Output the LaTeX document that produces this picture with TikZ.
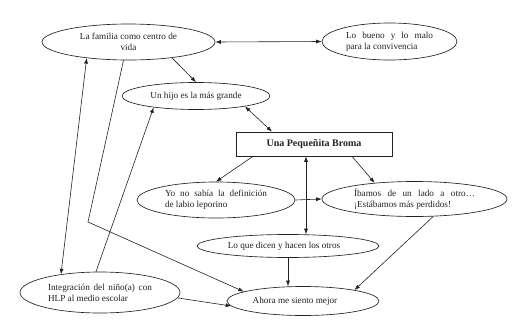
\documentclass[tikz,border=0pt]{standalone}
\usepackage{fontspec}
\setmainfont{Liberation Serif}
\usetikzlibrary{shapes.geometric,arrows.meta,calc}
\definecolor{ink}{HTML}{222222}
\begin{document}
\begin{tikzpicture}[x=1pt,y=-1pt,
  every node/.style={font=\fontsize{9.2}{11}\selectfont, text=ink},
  oval/.style={ellipse, draw=ink, line width=0.65pt, inner sep=0pt},
  conn/.style={draw=ink, line width=0.6pt},
  >={Latex[length=5.5pt,width=4pt]}]
\fill[white] (0,0) rectangle (517,327);
\useasboundingbox (0,0) rectangle (517,327);

\node[oval, minimum width=173pt, minimum height=36pt, align=center] (fam) at (128.5,42) {La familia como centro de\\vida};
\node[oval, minimum width=135pt, minimum height=37pt, align=left] (bueno) at (389.5,41.5) {\makebox[87pt][s]{Lo bueno y lo malo}\\para la convivencia};
\node[oval, minimum width=148pt, minimum height=27pt] (hijo) at (196,96) {Un hijo es la más grande};
\node[draw=ink, line width=0.65pt, minimum width=156pt, minimum height=24pt, inner sep=0pt, font=\fontsize{10}{12}\selectfont\bfseries] (broma) at (314,144) {Una Pequeñita Broma};
\node[oval, minimum width=158pt, minimum height=36pt, align=left] (yo) at (216,200) {\makebox[102pt][s]{Yo no sabía la definición}\\de labio leporino};
\node[oval, minimum width=185pt, minimum height=35pt, align=left] (ib) at (414.5,199) {\makebox[121pt][s]{Íbamos de un lado a otro…}\\¡Estábamos más perdidos!};
\node[oval, minimum width=182pt, minimum height=23pt] (dicen) at (288,246) {Lo que dicen y hacen los otros\hspace*{8pt}};
\node[oval, minimum width=160pt, minimum height=41pt, align=left] (integ) at (100,292.5) {\makebox[104pt][s]{Integración del niño(a) con}\\HLP al medio escolar};
\node[oval, minimum width=152pt, minimum height=29pt] (ahora) at (303,301) {Ahora me siento mejor\hspace*{16pt}};

\coordinate (bend) at (88,222);

\draw[conn,<->] (fam.east) -- (bueno.west);
\draw[conn,->] (fam.-20) -- (hijo.north);
\draw[conn,<->] (hijo.-12) -- ([xshift=-42pt]broma.north);
\draw[conn,->] ([xshift=-61pt]broma.south) -- (yo.north);
\draw[conn,->] ([xshift=38pt]broma.south) -- (ib.158);
\draw[conn,->] (yo.east) -- (ib.west);
\draw[conn,<->] ([xshift=-8pt]broma.south) -- ([xshift=18pt]dicen.north);
\draw[conn,->] (dicen.south) -- (dicen.south |- ahora.north);
\draw[conn,->] (ib.-43) -- (ahora.12);
\draw[conn,->] (integ.-4) -- (ahora.184);
\draw[conn,->] ([xshift=-4pt]integ.north) -- (hijo.195);
\draw[conn,<->] (integ.155) -- (fam.201);
\draw[conn,->] ([xshift=-5pt]fam.south) -- (bend) -- (ahora.171);
\end{tikzpicture}
\end{document}
